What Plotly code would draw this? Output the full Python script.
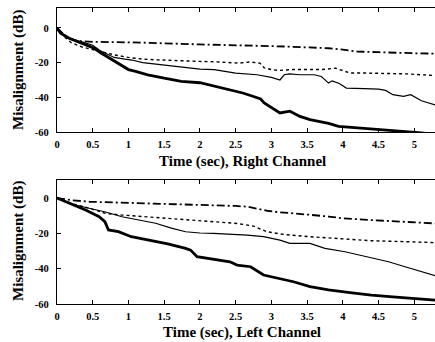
import plotly.graph_objects as go

# ---------------- data ----------------
# Right channel (top panel)
t_dashdot_R = [0, 0.1, 0.2, 0.3, 0.5, 0.8, 1.0, 1.3, 1.6, 1.8, 2.0, 2.3, 2.6, 2.9, 3.2, 3.5, 3.8, 4.0, 4.2, 4.5, 4.8, 5.0, 5.3]
v_dashdot_R = [0, -4, -6.5, -7.5, -8, -8, -8.3, -8.6, -8.8, -9.2, -9.5, -9.8, -10, -10.3, -10.7, -11.2, -11.7, -12.5, -13.6, -14, -14.6, -14.6, -14.8]

t_dotted_R = [0, 0.1, 0.2, 0.35, 0.5, 0.65, 0.8, 1.0, 1.2, 1.4, 1.6, 1.8, 2.0, 2.2, 2.4, 2.55, 2.7, 2.84, 2.9, 3.0, 3.1, 3.3, 3.5, 3.7, 3.9, 4.0, 4.1, 4.3, 4.6, 4.9, 5.1, 5.3]
v_dotted_R = [0, -5, -8.5, -11, -12.5, -14, -15.5, -17, -18, -18.4, -18.8, -19, -19.3, -19.5, -20, -20.3, -19.6, -20.3, -23, -24, -24.5, -24, -24, -24, -23.2, -24.5, -26, -26, -26.2, -26.5, -27, -27.5]

t_thin_R = [0, 0.1, 0.2, 0.35, 0.5, 0.6, 0.7, 0.8, 0.95, 1.05, 1.2, 1.5, 1.8, 2.0, 2.2, 2.5, 2.8, 3.0, 3.12, 3.18, 3.25, 3.4, 3.6, 3.7, 3.8, 3.85, 3.95, 4.05, 4.3, 4.5, 4.6, 4.7, 4.85, 4.95, 5.1, 5.3]
v_thin_R = [0, -4.5, -6.5, -8, -10, -13, -15, -17, -18, -18.5, -20, -21.3, -23, -23.8, -24, -26, -27, -28.5, -30, -27, -26.5, -27, -27, -28, -31.8, -30.5, -32, -34.7, -35, -35.3, -36, -38.5, -39.5, -38.5, -42, -44.5]

t_thick_R = [0, 0.05, 0.17, 0.35, 0.52, 0.6, 0.7, 0.86, 1.0, 1.1, 1.27, 1.5, 1.74, 2.0, 2.2, 2.42, 2.6, 2.75, 2.85, 2.9, 3.0, 3.12, 3.26, 3.4, 3.54, 3.8, 3.94, 4.2, 4.4, 4.6, 4.87, 5.1, 5.3]
v_thick_R = [0, -3, -5.9, -8.8, -11.7, -14, -16.5, -20.3, -24, -25, -27, -29, -30.8, -31.6, -33.5, -35.6, -37.5, -39.5, -41, -43.3, -46, -49, -48, -51, -52.9, -55, -56.7, -57.5, -58.2, -59, -59.6, -60.5, -61.5]

# Left channel (bottom panel)
t_dashdot_L = [0, 0.2, 0.45, 0.9, 1.3, 1.6, 1.9, 2.2, 2.5, 2.66, 2.8, 2.94, 3.1, 3.26, 3.54, 3.8, 4.0, 4.4, 4.87, 5.3]
v_dashdot_L = [0, -1.2, -2.1, -2.6, -3, -3.4, -3.6, -4, -4.5, -4.9, -6, -7.2, -8, -8.7, -9.5, -10.5, -11.5, -12.5, -13.4, -14.4]

t_dotted_L = [0, 0.2, 0.45, 0.68, 0.9, 1.1, 1.38, 1.8, 2.19, 2.52, 2.75, 2.85, 2.94, 3.1, 3.26, 3.54, 3.94, 4.4, 4.87, 5.3]
v_dotted_L = [0, -3, -5.8, -8.7, -9.6, -10.2, -10.9, -12.5, -13.4, -14.4, -15.9, -17.5, -19.1, -20.2, -21, -21.9, -22.9, -24.2, -24.7, -25.3]

t_thin_L = [0, 0.2, 0.45, 0.68, 0.91, 1.1, 1.38, 1.6, 1.8, 2.0, 2.19, 2.66, 2.89, 3.12, 3.26, 3.54, 3.75, 4.03, 4.31, 4.64, 4.87, 5.1, 5.3]
v_thin_L = [0, -3.5, -5.8, -7.9, -10.6, -12, -14.3, -17, -19.1, -19.8, -20, -21, -21.9, -23.8, -25.7, -25.7, -28.5, -30.4, -33.2, -36.1, -38.9, -41.5, -44]

t_thick_L = [0, 0.2, 0.4, 0.59, 0.67, 0.72, 0.86, 1.04, 1.3, 1.55, 1.8, 1.87, 1.96, 2.1, 2.42, 2.52, 2.71, 2.89, 3.12, 3.31, 3.54, 3.8, 4.1, 4.4, 4.7, 5.0, 5.3]
v_thick_L = [0, -3.5, -6.8, -10.6, -13.4, -18.1, -19, -21.9, -23.8, -26, -28.5, -29.5, -33.2, -34.2, -36.1, -38, -38.9, -43.6, -45.5, -47.4, -50.2, -52, -53.5, -55, -56, -57, -57.8]

x_tickvals = [0, 0.5, 1, 1.5, 2, 2.5, 3, 3.5, 4, 4.5, 5]
x_ticktext = ["0", "0.5", "1", "1.5", "2", "2.5", "3", "3.5", "4", "4.5", "5"]
y_tickvals = [0, -20, -40, -60]
y_ticktext = ["0", "-20", "-40", "-60"]

x_title_R = "Time (sec), Right Channel"
x_title_L = "Time (sec), Left Channel"
y_title = "Misalignment (dB)"

# ---------------- figure ----------------
FONT = "Liberation Serif"
fig = go.Figure()

styles = [
    dict(color="black", width=1.8, dash="8px,3px,2px,3px"),  # dash-dot
    dict(color="black", width=1.4, dash="dot"),               # dotted
    dict(color="black", width=1.2),                           # thin solid
    dict(color="black", width=2.8),                           # thick solid
]

top = [(t_dashdot_R, v_dashdot_R), (t_dotted_R, v_dotted_R), (t_thin_R, v_thin_R), (t_thick_R, v_thick_R)]
bot = [(t_dashdot_L, v_dashdot_L), (t_dotted_L, v_dotted_L), (t_thin_L, v_thin_L), (t_thick_L, v_thick_L)]

for (tx, vy), st in zip(top, styles):
    fig.add_trace(go.Scatter(x=tx, y=vy, mode="lines", line=st, xaxis="x", yaxis="y",
                             showlegend=False, cliponaxis=True, hoverinfo="skip"))
for (tx, vy), st in zip(bot, styles):
    fig.add_trace(go.Scatter(x=tx, y=vy, mode="lines", line=st, xaxis="x2", yaxis="y2",
                             showlegend=False, cliponaxis=True, hoverinfo="skip"))

tickfont = dict(family=FONT, size=10.5, color="black", weight="bold")

xcommon = dict(range=[0, 5.29], tickvals=x_tickvals, ticktext=x_ticktext, ticks="inside",
               ticklen=4, tickcolor="black", showline=True, linecolor="black", linewidth=1.2,
               mirror="ticks", showgrid=False, zeroline=False, tickfont=tickfont, ticklabelstandoff=2)
ycommon = dict(tickvals=y_tickvals, ticktext=y_ticktext, ticks="inside", ticklen=4,
               tickcolor="black", showline=True, linecolor="black", linewidth=1.2, mirror=False,
               showgrid=False, zeroline=False, tickfont=tickfont, ticklabelstandoff=5)

# pixel geometry: plot area from py 8 to py 304, px 57 to 435
def fy(py):
    return (304 - py) / 296.0

def fx(px):
    return (px - 57) / 378.0

fig.update_layout(
    width=435, height=342,
    margin=dict(l=57, r=0, t=8, b=38),
    paper_bgcolor="white", plot_bgcolor="white",
    hovermode=False,
    xaxis=dict(domain=[0, 1], anchor="y", **xcommon),
    yaxis=dict(domain=[fy(132), 1], anchor="x", range=[-60, 11.5], **ycommon),
    xaxis2=dict(domain=[0, 1], anchor="y2", **xcommon),
    yaxis2=dict(domain=[0, fy(180)], anchor="x2", range=[-60, 10.2], **ycommon),
)

titlefont = dict(family=FONT, size=15, color="black", weight="bold")
ann = [
    dict(text=x_title_R, x=fx(242), y=fy(161)),
    dict(text=x_title_L, x=fx(242), y=fy(332)),
    dict(text=y_title, x=fx(18), y=fy(70), textangle=-90),
    dict(text=y_title, x=fx(18), y=fy(241), textangle=-90),
]
for a in ann:
    fig.add_annotation(xref="paper", yref="paper", showarrow=False, xanchor="center",
                       yanchor="middle", font=titlefont, **a)

fig.write_html("out.html", config={"displayModeBar": False, "staticPlot": True},
               post_script="document.body.style.margin='0';document.body.style.overflow='hidden';")
